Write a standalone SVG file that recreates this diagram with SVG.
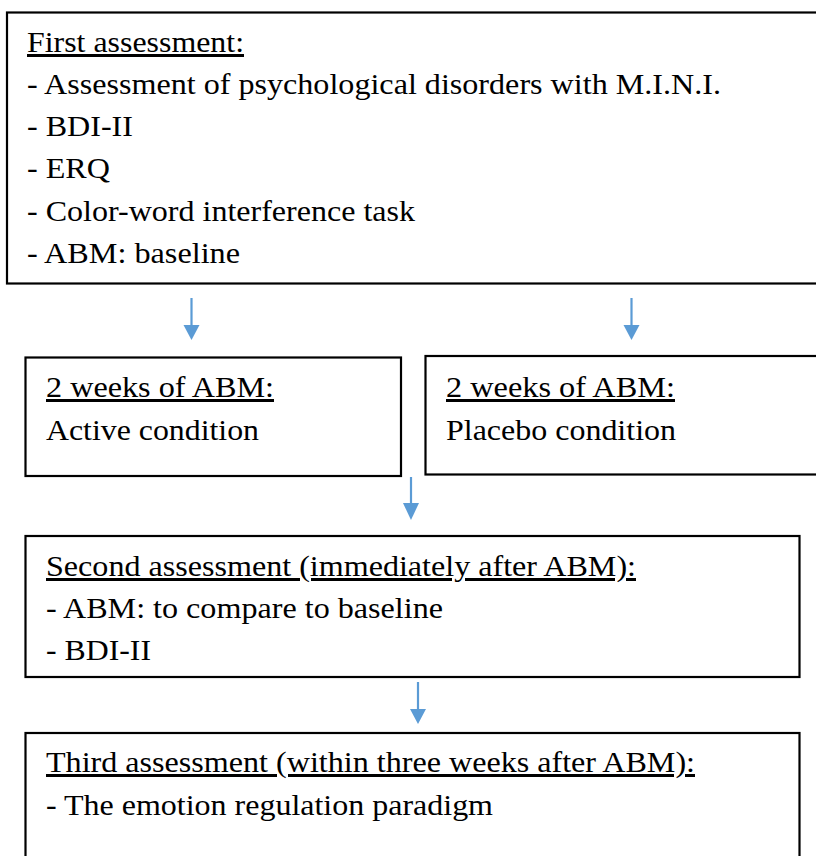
<svg xmlns="http://www.w3.org/2000/svg" width="816" height="856" viewBox="0 0 816 856">
<style>
.box{fill:#fff;stroke:#000;stroke-width:2.2}
.t{font-family:"Liberation Serif","Times New Roman",serif;font-size:30px;fill:#000}
.u{text-decoration:underline}
.shaft{stroke:#5B9BD5;stroke-width:2.2;fill:none}
.head{fill:#5B9BD5}
</style>
<rect width="816" height="856" fill="#fff"/>
<g id="connectors">
<line class="shaft" x1="191.5" y1="298" x2="191.5" y2="326"/>
<polygon class="head" points="183.5,325 199.5,325 191.5,340"/>
<line class="shaft" x1="631.5" y1="298" x2="631.5" y2="326"/>
<polygon class="head" points="623.5,325 639.5,325 631.5,340"/>
<line class="shaft" x1="411" y1="477" x2="411" y2="505"/>
<polygon class="head" points="403,503 419,503 411,520"/>
<line class="shaft" x1="418" y1="682" x2="418" y2="710"/>
<polygon class="head" points="410,709 426,709 418,724"/>
</g>
<g id="first">
<rect class="box" x="7" y="12.5" width="830" height="271"/>
<text class="t u" x="27" y="52" textLength="217" lengthAdjust="spacingAndGlyphs">First assessment:</text>
<text class="t" x="27" y="94" textLength="694" lengthAdjust="spacingAndGlyphs">- Assessment of psychological disorders with M.I.N.I.</text>
<text class="t" x="27" y="136" textLength="106" lengthAdjust="spacingAndGlyphs">- BDI-II</text>
<text class="t" x="27" y="178" textLength="83" lengthAdjust="spacingAndGlyphs">- ERQ</text>
<text class="t" x="27" y="221" textLength="388" lengthAdjust="spacingAndGlyphs">- Color-word interference task</text>
<text class="t" x="27" y="263" textLength="213" lengthAdjust="spacingAndGlyphs">- ABM: baseline</text>
</g>
<g id="active">
<rect class="box" x="25.5" y="357.5" width="375.5" height="118.5"/>
<text class="t u" x="46" y="397" textLength="228" lengthAdjust="spacingAndGlyphs">2 weeks of ABM:</text>
<text class="t" x="46" y="440" textLength="213" lengthAdjust="spacingAndGlyphs">Active condition</text>
</g>
<g id="placebo">
<rect class="box" x="425.5" y="356" width="410" height="118.5"/>
<text class="t u" x="446" y="397" textLength="229" lengthAdjust="spacingAndGlyphs">2 weeks of ABM:</text>
<text class="t" x="446" y="440" textLength="230" lengthAdjust="spacingAndGlyphs">Placebo condition</text>
</g>
<g id="second">
<rect class="box" x="25.5" y="536" width="774" height="141"/>
<text class="t u" x="46" y="576" textLength="590" lengthAdjust="spacingAndGlyphs">Second assessment (immediately after ABM):</text>
<text class="t" x="46" y="618" textLength="397" lengthAdjust="spacingAndGlyphs">- ABM: to compare to baseline</text>
<text class="t" x="46" y="660" textLength="105" lengthAdjust="spacingAndGlyphs">- BDI-II</text>
</g>
<g id="third">
<rect class="box" x="25.5" y="733" width="774" height="140"/>
<text class="t u" x="46" y="772" textLength="649" lengthAdjust="spacingAndGlyphs">Third assessment (within three weeks after ABM):</text>
<text class="t" x="46" y="815" textLength="447" lengthAdjust="spacingAndGlyphs">- The emotion regulation paradigm</text>
</g>
</svg>
